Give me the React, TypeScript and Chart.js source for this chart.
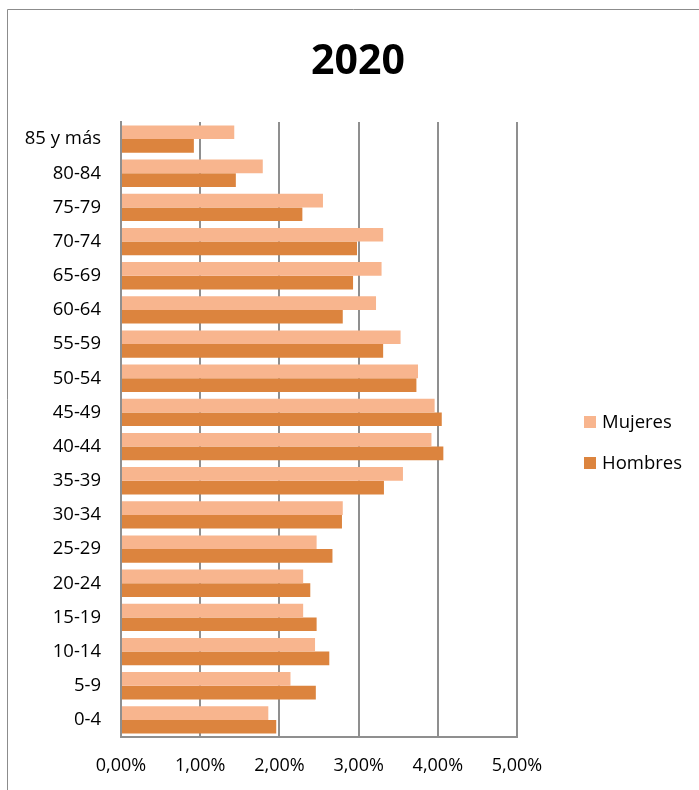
import React, { useEffect, useRef } from "react";
import { Chart, registerables } from "chart.js";

Chart.register(...registerables);

const TITLE = "2020";
const AGE_GROUPS = [
  "85 y más", "80-84", "75-79", "70-74", "65-69", "60-64", "55-59", "50-54", "45-49",
  "40-44", "35-39", "30-34", "25-29", "20-24", "15-19", "10-14", "5-9", "0-4",
];
const MUJERES = [
  1.43, 1.79, 2.55, 3.31, 3.29, 3.22, 3.53, 3.75, 3.96,
  3.92, 3.56, 2.80, 2.47, 2.30, 2.30, 2.45, 2.14, 1.86,
];
const HOMBRES = [
  0.92, 1.45, 2.29, 2.98, 2.93, 2.80, 3.31, 3.73, 4.05,
  4.07, 3.32, 2.79, 2.67, 2.39, 2.47, 2.63, 2.46, 1.96,
];
const SERIES_NAMES = ["Mujeres", "Hombres"];
const X_TICKS_MIN = 0;
const X_TICKS_MAX = 5;

const COLOR_M = "#F8B58E";
const COLOR_H = "#DC843E";
const GRID = "#8f8f8f";
const FONT = "'Open Sans', 'DejaVu Sans', sans-serif";

const framePlugin = {
  id: "frame",
  beforeDraw(chart: any) {
    const { ctx, width, height } = chart;
    ctx.save();
    ctx.fillStyle = "#fff";
    ctx.fillRect(0, 0, width, height);
    ctx.strokeStyle = "#8c8c8c";
    ctx.lineWidth = 1;
    ctx.beginPath();
    ctx.moveTo(7.5, height);
    ctx.lineTo(7.5, 9.5);
    ctx.lineTo(width, 9.5);
    ctx.stroke();
    ctx.restore();
  },
};

const titleLegendPlugin = {
  id: "titleLegend",
  afterDraw(chart: any) {
    const { ctx } = chart;
    ctx.save();
    ctx.font = `bold 41px ${FONT}`;
    ctx.fillStyle = "#000";
    ctx.textAlign = "center";
    ctx.textBaseline = "middle";
    ctx.fillText(TITLE, 358, 62);

    const items = [
      { label: SERIES_NAMES[0], color: COLOR_M, y: 422 },
      { label: SERIES_NAMES[1], color: COLOR_H, y: 463 },
    ];
    ctx.font = `18.5px ${FONT}`;
    ctx.textBaseline = "middle";
    ctx.textAlign = "left";
    for (const it of items) {
      ctx.fillStyle = it.color;
      ctx.fillRect(584, it.y - 6, 12, 12);
      ctx.fillStyle = "#000";
      ctx.fillText(it.label, 602, it.y + 1);
    }
    ctx.restore();
  },
};

export default function App() {
  const ref = useRef<HTMLCanvasElement | null>(null);
  useEffect(() => {
    if (!ref.current) return;
    const chart = new Chart(ref.current, {
      type: "bar",
      data: {
        labels: AGE_GROUPS,
        datasets: [
          {
            label: SERIES_NAMES[0],
            data: MUJERES,
            backgroundColor: COLOR_M,
            categoryPercentage: 0.8,
            barPercentage: 1.0,
          },
          {
            label: SERIES_NAMES[1],
            data: HOMBRES,
            backgroundColor: COLOR_H,
            categoryPercentage: 0.8,
            barPercentage: 1.0,
          },
        ],
      },
      options: {
        indexAxis: "y",
        animation: false,
        responsive: false,
        layout: { padding: { left: 0, right: 182, top: 122, bottom: 0 } },
        plugins: {
          legend: { display: false },
          tooltip: { enabled: false },
          title: { display: false },
        },
        scales: {
          x: {
            min: X_TICKS_MIN,
            max: X_TICKS_MAX,
            grid: { color: GRID, lineWidth: 2, drawTicks: false },
            border: { display: true, color: GRID, width: 2 },
            ticks: {
              stepSize: 1,
              color: "#000",
              padding: 18,
              font: { family: FONT, size: 18 },
              callback: (v: any) => Number(v).toFixed(2).replace(".", ",") + "%",
            },
            afterFit: (s: any) => {
              s.height = 53;
            },
          },
          y: {
            grid: { display: false, drawTicks: false },
            border: { display: true, color: GRID, width: 2 },
            ticks: {
              color: "#000",
              padding: 20,
              font: { family: FONT, size: 18.5 },
            },
            afterFit: (s: any) => {
              s.width = 121;
            },
          },
        },
      },
      plugins: [framePlugin, titleLegendPlugin],
    });
    return () => chart.destroy();
  }, []);
  return (
    <div style={{ position: "absolute", left: 0, top: 0, width: 699, height: 790 }}>
      <canvas ref={ref} width={699} height={790} style={{ display: "block" }} />
    </div>
  );
}
